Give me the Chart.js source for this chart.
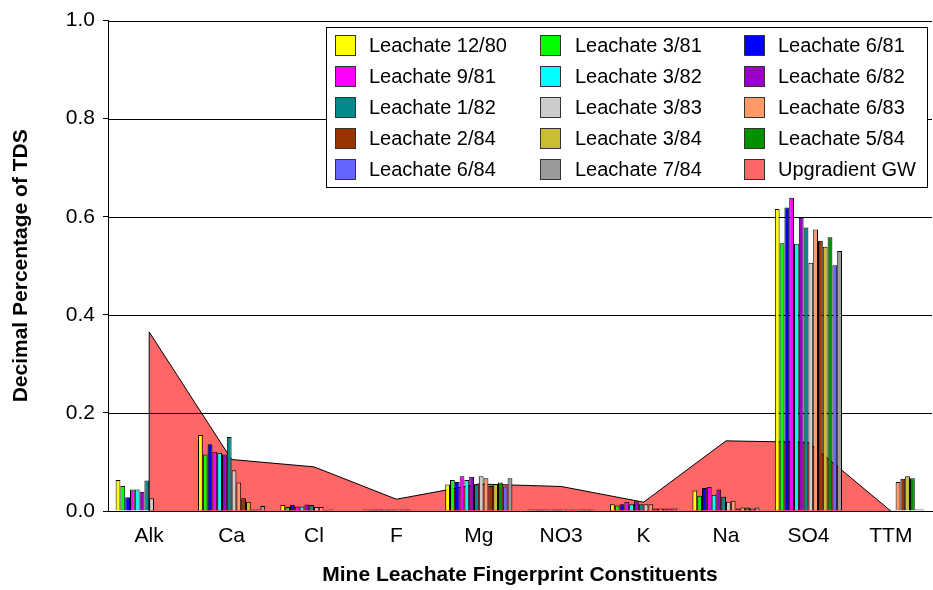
<!DOCTYPE html>
<html>
<head>
<meta charset="utf-8">
<script src="https://cdn.jsdelivr.net/npm/chart.js@4.4.0/dist/chart.umd.min.js"></script>
<style>
  html, body { margin: 0; padding: 0; background: #fff; }
  #chart { display: block; }
</style>
</head>
<body>
<canvas id="chart" width="933" height="590"></canvas>
<script>
const categories = ['Alk', 'Ca', 'Cl', 'F', 'Mg', 'NO3', 'K', 'Na', 'SO4', 'TTM'];
const yTicks = [0, 0.2, 0.4, 0.6, 0.8, 1.0];

// leachate samples, one array per sampling date
const leach1280 = [0.063, 0.155, 0.012, 0.003, 0.054, 0.003, 0.014, 0.042, 0.616, null];
const leach381  = [0.051, 0.115, 0.008, 0.003, 0.063, 0.003, 0.011, 0.031, 0.546, null];
const leach681  = [0.028, 0.136, 0.012, 0.003, 0.059, 0.003, 0.014, 0.047, 0.619, null];
const leach981  = [0.044, 0.121, 0.009, 0.003, 0.071, 0.003, 0.019, 0.049, 0.639, null];
const leach382  = [0.044, 0.119, 0.009, 0.003, 0.063, 0.003, 0.014, 0.033, 0.545, null];
const leach682  = [0.039, 0.115, 0.013, 0.003, 0.070, 0.003, 0.020, 0.044, 0.598, null];
const leach182  = [0.062, 0.151, 0.012, 0.003, 0.054, 0.003, 0.014, 0.029, 0.578, null];
const leach383  = [0.026, 0.083, 0.008, 0.003, 0.071, 0.003, 0.014, 0.019, 0.506, 0.002];
const leach683  = [null, 0.058, 0.008, 0.003, 0.067, 0.003, 0.014, 0.021, 0.574, 0.059];
const leach284  = [null, 0.026, 0.002, 0.003, 0.051, 0.003, 0.005, 0.005, 0.551, 0.066];
const leach384  = [null, 0.019, 0.003, null, 0.055, 0.003, 0.005, 0.007, 0.539, 0.071];
const leach584  = [null, 0.003, null, null, 0.058, 0.003, 0.005, 0.007, 0.558, 0.067];
const leach684  = [null, 0.003, null, null, 0.050, 0.003, 0.005, 0.005, 0.501, 0.003];
const leach784  = [null, 0.010, null, null, 0.067, 0.003, 0.005, 0.007, 0.530, 0.003];
const upgradientGW = [0.365, 0.105, 0.090, 0.024, 0.055, 0.050, 0.018, 0.143, 0.140, 0];

const seriesNames = ['Leachate 12/80', 'Leachate 3/81', 'Leachate 6/81', 'Leachate 9/81',
  'Leachate 3/82', 'Leachate 6/82', 'Leachate 1/82', 'Leachate 3/83', 'Leachate 6/83',
  'Leachate 2/84', 'Leachate 3/84', 'Leachate 5/84', 'Leachate 6/84', 'Leachate 7/84'];
const seriesData = [leach1280, leach381, leach681, leach981, leach382, leach682, leach182,
  leach383, leach683, leach284, leach384, leach584, leach684, leach784];
const seriesColors = ['#FFFF00', '#00FF00', '#0000FF', '#FF00FF', '#00FFFF', '#9900CC', '#008B8B',
  '#CCCCCC', '#FF9966', '#993300', '#C8BE30', '#009000', '#6666FF', '#999999'];
const gwName = 'Upgradient GW';
const gwColor = '#FF6666';

const FONT = "'Liberation Sans', Arial, sans-serif";

const datasets = seriesNames.map((name, i) => ({
  type: 'bar',
  label: name,
  data: seriesData[i],
  backgroundColor: seriesColors[i],
  borderColor: '#000',
  borderWidth: 1,
  categoryPercentage: 0.815,
  barPercentage: 1.0,
  order: 0
}));
datasets.push({
  type: 'line',
  label: gwName,
  data: upgradientGW,
  backgroundColor: gwColor,
  borderColor: '#000',
  borderWidth: 1,
  fill: 'origin',
  tension: 0,
  pointRadius: 0,
  order: 1
});
const gwIndex = datasets.length - 1;

// grid lines sit above the area but below the bars
const gridOverArea = {
  id: 'gridOverArea',
  afterDatasetDraw(chart, args) {
    if (args.index !== gwIndex) return;
    const { ctx, chartArea } = chart;
    const y = chart.scales.y;
    ctx.save();
    ctx.strokeStyle = '#000';
    ctx.lineWidth = 1;
    yTicks.forEach(v => {
      if (v === 0) return;
      const py = Math.round(y.getPixelForValue(v)) + 0.5;
      ctx.beginPath();
      ctx.moveTo(chartArea.left, py);
      ctx.lineTo(chartArea.right, py);
      ctx.stroke();
    });
    const p0 = args.meta.data[0];
    ctx.beginPath();
    ctx.moveTo(p0.x, p0.y);
    ctx.lineTo(p0.x, y.getPixelForValue(0));
    ctx.stroke();
    ctx.restore();
  }
};

const boxLegend = {
  id: 'boxLegend',
  afterDraw(chart) {
    const ctx = chart.ctx;
    const names = seriesNames.concat([gwName]);
    const colors = seriesColors.concat([gwColor]);
    const box = { x: 326, y: 27, w: 601, h: 160 };
    const swatchX = [335, 540, 744];
    const textX = [369, 575, 778];
    ctx.save();
    ctx.fillStyle = '#fff';
    ctx.fillRect(box.x, box.y, box.w, box.h);
    ctx.strokeStyle = '#000';
    ctx.lineWidth = 1;
    ctx.strokeRect(box.x + 0.5, box.y + 0.5, box.w, box.h);
    ctx.font = '20px ' + FONT;
    ctx.textBaseline = 'middle';
    names.forEach((name, k) => {
      const r = Math.floor(k / 3), c = k % 3;
      const cy = box.y + 18 + r * 31;
      ctx.fillStyle = colors[k];
      ctx.fillRect(swatchX[c], cy - 10, 21, 21);
      ctx.strokeStyle = '#333';
      ctx.strokeRect(swatchX[c] + 0.5, cy - 9.5, 20, 20);
      ctx.fillStyle = '#000';
      ctx.fillText(name, textX[c], cy + 1);
    });
    ctx.restore();
  }
};

new Chart(document.getElementById('chart'), {
  data: { labels: categories, datasets },
  plugins: [gridOverArea, boxLegend],
  options: {
    responsive: false,
    animation: false,
    devicePixelRatio: 1,
    layout: { padding: { top: 20, right: 1, left: 0, bottom: 0 } },
    plugins: {
      legend: { display: false },
      tooltip: { enabled: false }
    },
    scales: {
      x: {
        offset: true,
        grid: { display: false },
        border: { display: true, color: '#000', width: 1 },
        ticks: { color: '#000', font: { family: FONT, size: 21 }, padding: 5, maxRotation: 0 },
        title: {
          display: true,
          text: 'Mine Leachate Fingerprint Constituents',
          color: '#000',
          font: { family: FONT, size: 21, weight: 'bold' },
          padding: { top: 0, bottom: 2 }
        },
        afterFit(scale) { scale.height = 79; }
      },
      y: {
        min: 0,
        max: 1,
        grid: { color: 'rgba(0,0,0,0)', tickColor: '#000', tickLength: 5, drawTicks: true },
        border: { display: true, color: '#000', width: 1 },
        ticks: {
          stepSize: 0.2,
          color: '#000',
          padding: 8,
          font: { family: FONT, size: 21 },
          callback: v => v.toFixed(1)
        },
        title: {
          display: true,
          text: 'Decimal Percentage of TDS',
          color: '#000',
          font: { family: FONT, size: 21, weight: 'bold' },
          padding: { top: 9, bottom: 0 }
        },
        afterFit(scale) { scale.width = 108; }
      }
    }
  }
});
</script>
</body>
</html>
